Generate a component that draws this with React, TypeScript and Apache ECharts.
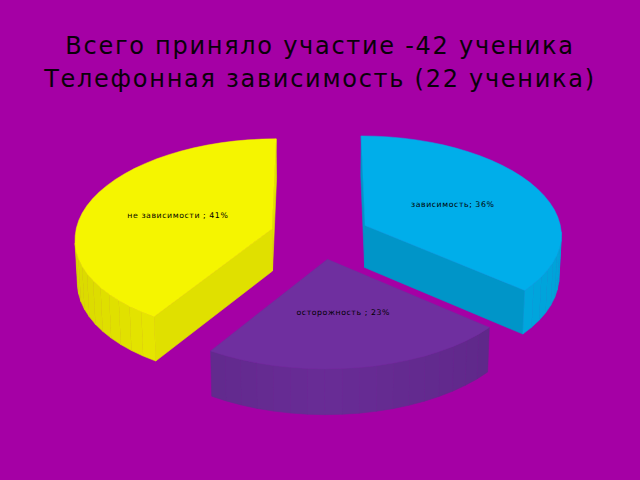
import React, { useEffect, useRef } from "react";
import * as echarts from "echarts";

// ---- data ----
const titleLines = ["Всего приняло участие -42 ученика", "Телефонная зависимость (22 ученика)"];
const categories = ["зависимость", "осторожность ", "не зависимости "];
const values = [36, 23, 41];

// ---- styles ----
const topColors = ["#00aeea", "#6f2f9f", "#f5f500"];
const innerWallColors = ["#0095c8", "#632a8e", "#e0e000"];
const outerWallBases = [[0, 182, 242], [104, 44, 150], [244, 244, 0]];
const BG = "#a500a5";

// ---- projection of the tilted pie ----
const CX = 320, CY = 235.5, RX = 197, RY = 98.6, KX = 0.085, KY = 0.076, SHEAR = 2.5;
const EXPLODE_X = 0.255, EXPLODE_Y = 0.24, BOTTOM_SCALE = 0.99, LABEL_F = 0.51;

const project = (px: number, pv: number): number[] => [
  CX + px * RX * (1 + KX * pv) - SHEAR * Math.max(0, pv),
  CY + pv * RY * (1 + KY * pv),
];
const lower = (p: number[]): number[] => [
  CX + (p[0] - CX) * BOTTOM_SCALE,
  p[1] + 42.2 + (2.6 * (p[1] - CY)) / RY,
];
const dir = (a: number): number[] => [Math.sin(a), -Math.cos(a)];

const total = values.reduce((s, v) => s + v, 0);

function renderSlice(params: any) {
  const i = params.dataIndex;
  const before = values.slice(0, i).reduce((s, v) => s + v, 0);
  const a0 = (before / total) * Math.PI * 2;
  const a1 = ((before + values[i]) / total) * Math.PI * 2;
  const md = dir((a0 + a1) / 2);
  const ox = md[0] * EXPLODE_X, ov = md[1] * EXPLODE_Y;
  const at = (a: number, f = 1) => {
    const d = dir(a);
    return project(ox + d[0] * f, ov + d[1] * f);
  };
  const apex = at(a0, 0);
  const n = Math.max(4, Math.round((a1 - a0) / (Math.PI / 40)));
  const arc: number[][] = [];
  for (let k = 0; k <= n; k++) arc.push(at(a0 + ((a1 - a0) * k) / n));

  const children: any[] = [];
  const quad = (a: number[], b: number[], fill: string) =>
    children.push({
      type: "polygon",
      shape: { points: [a, b, lower(b), lower(a)] },
      style: { fill, stroke: fill, lineWidth: 0.6 },
    });
  // radial walls: only those whose edge runs leftward (clockwise outline) face the viewer
  if (arc[0][0] < apex[0]) quad(apex, arc[0], innerWallColors[i]);
  if (apex[0] < arc[n][0]) quad(arc[n], apex, innerWallColors[i]);
  // outer wall, facet by facet
  for (let k = 0; k < n; k++) {
    if (arc[k + 1][0] < arc[k][0]) {
      const u = Math.abs(dir(a0 + ((a1 - a0) * (k + 0.5)) / n)[0]);
      const sh = 1 - 0.11 * u;
      const c = outerWallBases[i];
      quad(arc[k], arc[k + 1], `rgb(${Math.round(c[0] * sh)},${Math.round(c[1] * sh)},${Math.round(c[2] * sh)})`);
    }
  }
  children.push({
    type: "polygon",
    shape: { points: [apex, ...arc] },
    style: { fill: topColors[i], stroke: topColors[i], lineWidth: 0.5 },
  });
  const lp = project(ox + md[0] * LABEL_F, ov + md[1] * LABEL_F);
  children.push({
    type: "text",
    x: lp[0],
    y: lp[1],
    style: {
      text: `${categories[i]}; ${values[i]}%`,
      fill: "#000",
      font: '7.8px "DejaVu Sans"',
      align: "center",
      verticalAlign: "middle",
    },
  });
  return { type: "group", children };
}

export default function App() {
  const ref = useRef<HTMLDivElement>(null);
  useEffect(() => {
    document.body.style.margin = "0";
    const chart = echarts.init(ref.current!, undefined, { renderer: "svg" });
    chart.setOption({
      animation: false,
      backgroundColor: BG,
      title: {
        text: titleLines.join("\n"),
        left: "center",
        top: 24,
        textStyle: {
          fontFamily: "DejaVu Sans",
          fontSize: 24,
          fontWeight: "normal",
          color: "#0a000a",
          lineHeight: 33,
          align: "center",
        },
      },
      series: [
        {
          type: "custom",
          coordinateSystem: "none",
          renderItem: renderSlice,
          data: values,
          silent: true,
        },
      ],
    });
    return () => chart.dispose();
  }, []);
  return (
    <>
      <style>{".pie3d text { letter-spacing: 0.072em; }"}</style>
      <div className="pie3d" ref={ref} style={{ width: 640, height: 480 }} />
    </>
  );
}
